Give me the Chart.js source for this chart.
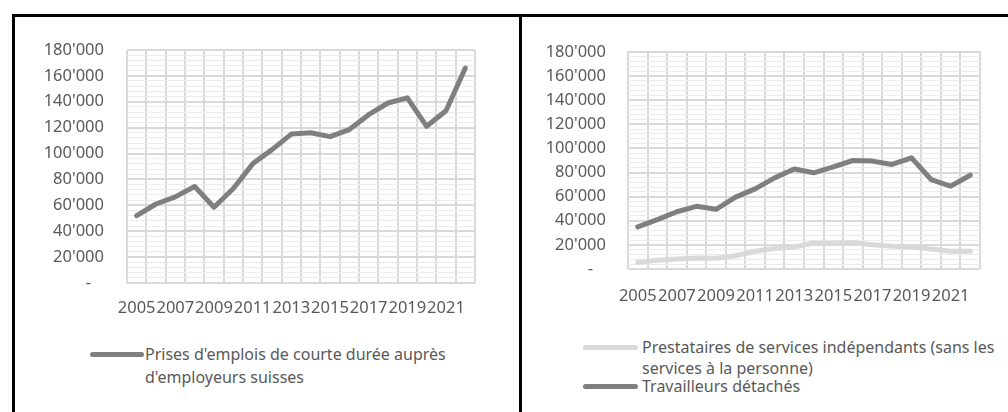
<!DOCTYPE html>
<html>
<head>
<meta charset="utf-8">
<script src="https://cdn.jsdelivr.net/npm/chart.js@4.4.1/dist/chart.umd.min.js"></script>
<style>
  body { margin: 0; background: #fff; font-family: "Noto Sans", sans-serif; }
  .bord { position: absolute; background: #000; }
  canvas { position: absolute; }
  .leg { position: absolute; font-size: 16px; color: #595959; white-space: nowrap; line-height: 20px; }
  .swatch { position: absolute; height: 5px; border-radius: 3px; }
</style>
</head>
<body>
<div class="bord" style="left:12px;top:14px;width:996px;height:3px"></div>
<div class="bord" style="left:12px;top:14px;width:3px;height:398px"></div>
<div class="bord" style="left:519px;top:14px;width:3px;height:398px"></div>

<canvas id="gauche" width="504" height="310" style="left:15px;top:17px"></canvas>
<canvas id="droite" width="486" height="300" style="left:522px;top:17px"></canvas>

<div class="swatch" style="left:90px;top:352px;width:54px;background:#7f7f7f"></div>
<div class="leg" style="left:145px;top:344px">Prises d'emplois de courte durée auprès</div>
<div class="leg" style="left:145px;top:367px">d'employeurs suisses</div>

<div class="swatch" style="left:583px;top:345px;width:55px;background:#d9d9d9"></div>
<div class="leg" style="left:642px;top:337px">Prestataires de services indépendants (sans les</div>
<div class="leg" style="left:642px;top:358px">services à la personne)</div>
<div class="swatch" style="left:583px;top:384px;width:55px;background:#7f7f7f"></div>
<div class="leg" style="left:642px;top:376px">Travailleurs détachés</div>

<script>
const annees = ['2005','2006','2007','2008','2009','2010','2011','2012','2013',
                '2014','2015','2016','2017','2018','2019','2020','2021','2022']
const emploisCourteDuree = [52000, 61000, 66500, 74500, 58500, 73000, 92000, 103000, 115000,
                            116000, 113000, 118500, 130000, 139000, 143000, 121000, 133000, 166000]
const prestataires = [5500, 7200, 8300, 9100, 9000, 11000, 14700, 17000, 18300,
                      21600, 21600, 21800, 20200, 18800, 18300, 16600, 14700, 14700]
const travailleursDetaches = [35000, 41000, 47500, 52000, 49500, 59600, 66500, 75600, 83000,
                              79800, 84800, 90000, 89500, 86700, 92200, 74200, 68700, 77800]
const yMax = 180000
const yPas = 20000
const yPasMineur = 4000

function formatMilliers(v) {
    if (v === 0) return '-   '
    return String(v).replace(/\B(?=(\d{3})+(?!\d))/g, "'")
}

// plotLeft..plotBottom = zone de tracé voulue, en px dans le canvas
function creerGraphique(id, series, plotLeft, plotRight, plotTop, plotBottom, padY, padX) {
    const canvas = document.getElementById(id)
    const w = canvas.width, h = canvas.height
    return new Chart(canvas, {
        type: 'line',
        data: {
            labels: annees,
            datasets: series.map(s => ({
                label: s.nom,
                data: s.valeurs,
                borderColor: s.couleur,
                borderWidth: 5,
                borderCapStyle: 'round',
                borderJoinStyle: 'round',
                pointRadius: 0,
                tension: 0
            }))
        },
        options: {
            responsive: false,
            animation: false,
            devicePixelRatio: 1,
            layout: { padding: { left: 0, top: plotTop, right: w - plotRight, bottom: 0 } },
            plugins: { legend: { display: false }, tooltip: { enabled: false } },
            scales: {
                x: {
                    offset: true,
                    grid: { offset: true, color: '#d9d9d9', lineWidth: 2, drawTicks: false },
                    border: { display: false },
                    ticks: {
                        autoSkip: false, maxRotation: 0, padding: padX,
                        color: '#595959', font: { family: 'Noto Sans', size: 16.5 },
                        callback: (val, i) => i % 2 === 0 ? annees[i] : ''
                    },
                    afterFit: s => { s.height = h - plotBottom }
                },
                y: {
                    min: 0, max: yMax,
                    grid: { color: '#d9d9d9', lineWidth: 2, drawTicks: false },
                    border: { display: false },
                    ticks: {
                        stepSize: yPas, padding: padY,
                        color: '#595959', font: { family: 'Noto Sans', size: 16.5 },
                        callback: v => formatMilliers(v)
                    },
                    afterFit: s => { s.width = plotLeft }
                },
                mineur: {
                    position: 'left', z: -1,
                    min: 0, max: yMax,
                    grid: {
                        drawTicks: false, lineWidth: 1,
                        color: c => c.tick && c.tick.value % yPas === 0 ? 'rgba(0,0,0,0)' : '#ececec'
                    },
                    border: { display: false },
                    ticks: { stepSize: yPasMineur, display: false },
                    afterFit: s => { s.width = 0 }
                }
            }
        }
    })
}

creerGraphique('gauche', [
    { nom: "Prises d'emplois de courte durée auprès d'employeurs suisses", valeurs: emploisCourteDuree, couleur: '#7f7f7f' }
], 112, 460, 29, 266, 23, 15)

creerGraphique('droite', [
    { nom: 'Prestataires de services indépendants (sans les services à la personne)', valeurs: prestataires, couleur: '#d9d9d9' },
    { nom: 'Travailleurs détachés', valeurs: travailleursDetaches, couleur: '#7f7f7f' }
], 106, 458, 35, 252, 22, 17)
</script>
</body>
</html>
